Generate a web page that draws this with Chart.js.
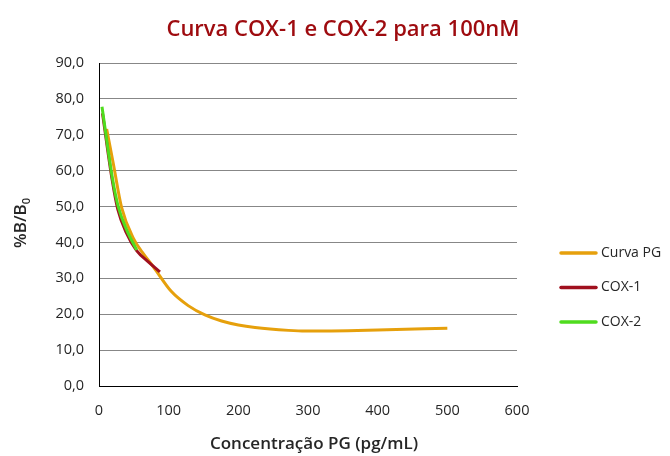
<!DOCTYPE html>
<html>
<head>
<meta charset="utf-8">
<script src="https://cdn.jsdelivr.net/npm/chart.js@4/dist/chart.umd.min.js"></script>
<style>
  html, body { margin: 0; padding: 0; background: #ffffff; }
  #wrap { width: 670px; height: 456px; }
</style>
</head>
<body>
<div id="wrap"><canvas id="c" width="670" height="456"></canvas></div>
<script>
// Texts
const chartTitle = 'Curva COX-1 e COX-2 para 100nM';
const xAxisTitle = 'Concentração PG (pg/mL)';
const yAxisTitleMain = '%B/B';
const yAxisTitleSub = '0';
const seriesNames = ['Curva PG', 'COX-1', 'COX-2'];

// Axis ranges / ticks
const xTicks = [0, 100, 200, 300, 400, 500, 600];
const yTicks = [0, 10, 20, 30, 40, 50, 60, 70, 80, 90];

// Standard curve (PG concentration vs %B/B0)
const curvaX = [11, 20.5, 32.5, 49, 62, 78, 104, 128, 152, 176, 200, 224, 272, 296, 400, 500];
const curvaY = [71.6, 62.0, 49.7, 41.3, 37.3, 33.2, 26.3, 22.4, 19.8, 18.1, 17.0, 16.3, 15.5, 15.3, 15.6, 16.1];

// COX-1 samples
const cox1X = [5, 19, 27, 39, 54, 70.8, 87.5];
const cox1Y = [76.0, 57.3, 49.2, 42.8, 37.7, 34.6, 31.8];

// COX-2 samples
const cox2X = [4.3, 19.5, 27.7, 39.7, 54];
const cox2Y = [77.8, 57.6, 49.9, 43.5, 37.9];

const colors = ['#E6A00C', '#A0101E', '#4FDC1E'];
const FONT = '"Open Sans", "DejaVu Sans", sans-serif';

function pts(xs, ys) { return xs.map((x, i) => ({ x: x, y: ys[i] })); }

const textPlugin = {
  id: 'texts',
  afterDraw(chart) {
    const ctx = chart.ctx;
    ctx.save();
    // chart title
    ctx.fillStyle = '#9E0B0F';
    ctx.font = '600 22px ' + FONT;
    ctx.textAlign = 'center';
    ctx.textBaseline = 'middle';
    ctx.fillText(chartTitle, 343, 30);

    // x axis title
    ctx.fillStyle = '#262626';
    ctx.font = '600 17px ' + FONT;
    ctx.fillText(xAxisTitle, 314, 444);

    // y axis title with subscript
    ctx.translate(21, 223);
    ctx.rotate(-Math.PI / 2);
    ctx.font = '600 17px ' + FONT;
    const wMain = ctx.measureText(yAxisTitleMain).width;
    ctx.font = '600 11px ' + FONT;
    const wSub = ctx.measureText(yAxisTitleSub).width;
    const start = -(wMain + wSub) / 2;
    ctx.textAlign = 'left';
    ctx.font = '600 17px ' + FONT;
    ctx.fillText(yAxisTitleMain, start, 0);
    ctx.font = '600 11px ' + FONT;
    ctx.fillText(yAxisTitleSub, start + wMain, 6);
    ctx.restore();

    // legend
    ctx.save();
    ctx.font = '14px ' + FONT;
    ctx.textBaseline = 'middle';
    ctx.textAlign = 'left';
    chart.data.datasets.forEach((ds, i) => {
      const y = 253 + i * 34.5;
      ctx.strokeStyle = ds.borderColor;
      ctx.lineWidth = 3.5;
      ctx.lineCap = 'round';
      ctx.beginPath();
      ctx.moveTo(561, y);
      ctx.lineTo(596, y);
      ctx.stroke();
      ctx.fillStyle = '#262626';
      ctx.fillText(ds.label, 601, y);
    });
    ctx.restore();
  }
};

const ds = (i, xs, ys, order) => ({
  label: seriesNames[i],
  data: pts(xs, ys),
  showLine: true,
  borderColor: colors[i],
  backgroundColor: colors[i],
  borderWidth: 3,
  pointRadius: 0,
  pointHoverRadius: 0,
  cubicInterpolationMode: 'monotone',
  order: order
});

new Chart(document.getElementById('c'), {
  type: 'scatter',
  data: {
    datasets: [
      ds(0, curvaX, curvaY, 3),
      ds(1, cox1X, cox1Y, 2),
      ds(2, cox2X, cox2Y, 1)
    ]
  },
  options: {
    responsive: false,
    animation: false,
    devicePixelRatio: 1,
    layout: { padding: { left: 30, right: 153, top: 63, bottom: 0 } },
    plugins: {
      legend: { display: false },
      title: { display: false },
      tooltip: { enabled: false }
    },
    scales: {
      x: {
        type: 'linear',
        min: 0, max: 600,
        afterBuildTicks(scale) { scale.ticks = xTicks.map(v => ({ value: v })); },
        afterFit(scale) { scale.height = 70; },
        grid: { display: false, drawTicks: false },
        border: { display: true, color: '#000000', width: 1 },
        ticks: {
          padding: 16,
          color: '#262626',
          font: { family: FONT, size: 14.5 },
          callback: v => String(v)
        }
      },
      y: {
        type: 'linear',
        min: 0, max: 90,
        afterBuildTicks(scale) { scale.ticks = yTicks.map(v => ({ value: v })); },
        afterFit(scale) { scale.width = 69; },
        grid: { color: '#878787', lineWidth: 1, drawTicks: false },
        border: { display: true, color: '#000000', width: 1 },
        ticks: {
          padding: 15,
          color: '#262626',
          font: { family: FONT, size: 14.5 },
          callback: v => v.toFixed(1).replace('.', ',')
        }
      }
    }
  },
  plugins: [textPlugin]
});
</script>
</body>
</html>
